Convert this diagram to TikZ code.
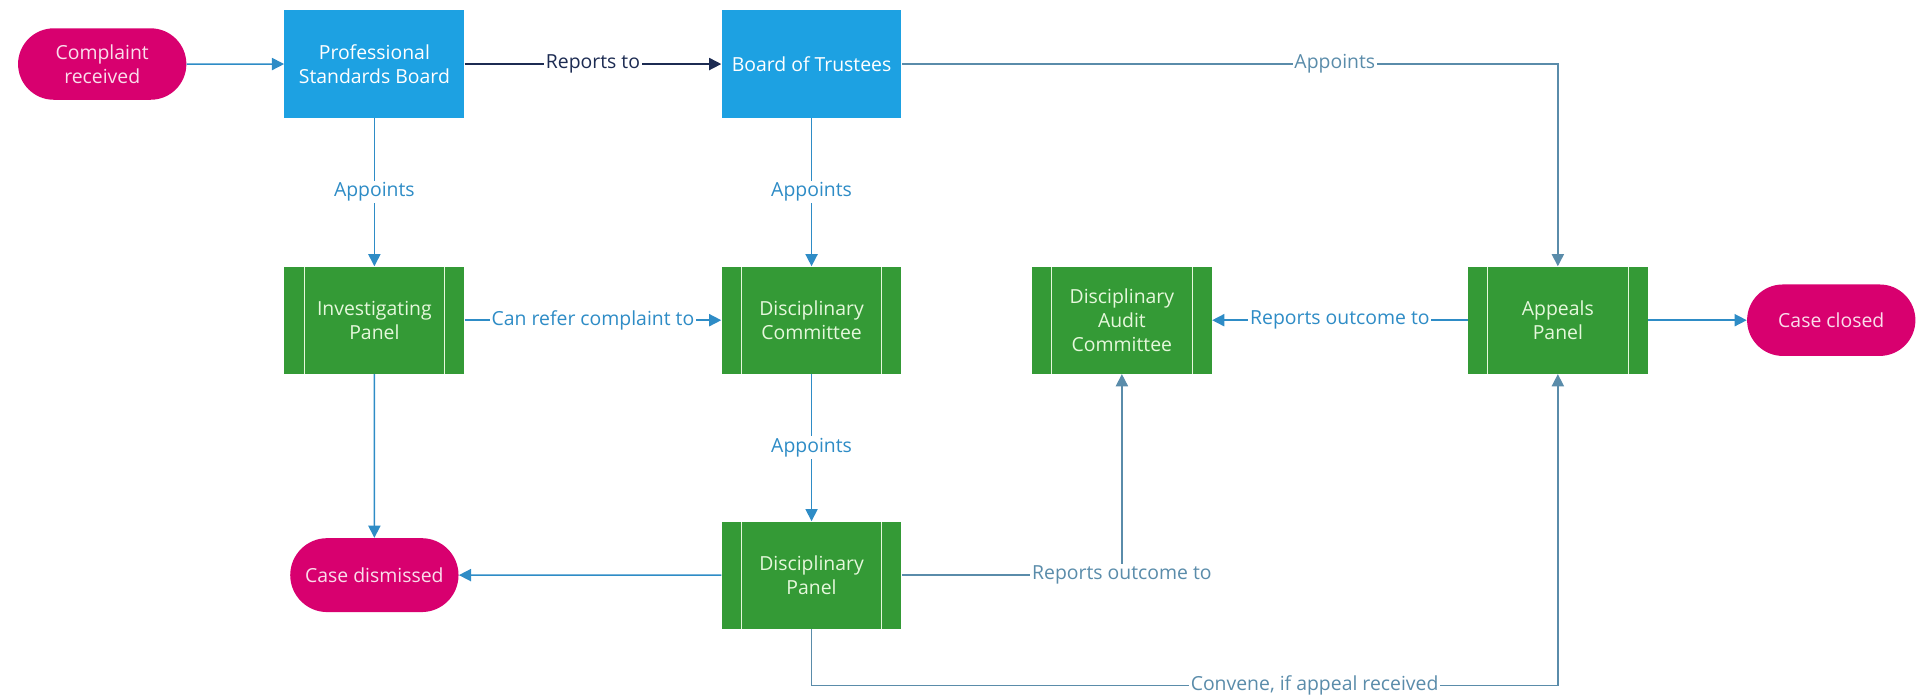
\documentclass[tikz,border=0pt]{standalone}
\usepackage{fontspec}
\setmainfont{Open Sans}
\usetikzlibrary{arrows.meta,positioning,shapes.misc}
\definecolor{pillColor}{HTML}{D8006F}
\definecolor{pillText}{HTML}{FADDEB}
\definecolor{boardColor}{HTML}{1DA1E2}
\definecolor{panelColor}{HTML}{349A36}
\definecolor{panelText}{HTML}{E6F8DC}
\definecolor{linkColor}{HTML}{2E8CC6}
\definecolor{longColor}{HTML}{5A8CAA}
\definecolor{navyColor}{HTML}{1C2B52}
\tikzset{
	box font/.style={font=\fontsize{11.2}{13.8}\selectfont},
	pill/.style={rounded rectangle, fill=pillColor, text=pillText, box font,
		minimum width=3.65cm, minimum height=1.45cm, align=center},
	board/.style={fill=boardColor, text=white, box font,
		minimum width=3.65cm, minimum height=2.175cm, align=center},
	panel/.style={fill=panelColor, text=panelText, box font,
		minimum width=3.65cm, minimum height=2.175cm, align=center,
		path picture={\draw[panelText, line width=0.6pt]
			([xshift=0.4cm]path picture bounding box.north west) -- ([xshift=0.4cm]path picture bounding box.south west)
			([xshift=-0.4cm]path picture bounding box.north east) -- ([xshift=-0.4cm]path picture bounding box.south east);}},
	link/.style={draw=linkColor, line width=0.9pt, -{Triangle[length=7pt,width=7pt]}},
	long link/.style={link, draw=longColor},
	lab/.style={fill=white, text=linkColor, inner sep=1pt, box font}
}

\begin{document}
\begin{tikzpicture}[x=0.025cm, y=-0.025cm]
	\useasboundingbox (0,0) rectangle (1568,567);
	% top row
	\node[pill] (complaint) at (83,52) {Complaint\\received};
	\node[board] (psb) at (304,52) {Professional\\Standards Board};
	\node[board] (bot) at (659,52) {Board of Trustees};
	% middle row
	\node[panel] (ip) at (304,260) {Investigating\\Panel};
	\node[panel] (dc) at (659,260) {Disciplinary\\Committee};
	\node[panel] (dac) at (911,260) {Disciplinary\\Audit\\Committee};
	\node[panel] (ap) at (1265,260) {Appeals\\Panel};
	\node[pill] (closed) at (1487,260) {Case closed};
	% bottom row
	\node[pill, minimum height=1.5cm] (dismissed) at (304,467) {Case dismissed};
	\node[panel] (dp) at (659,467) {Disciplinary\\Panel};

	\draw[link] (complaint) -- (psb);
	\draw[link, draw=navyColor] (psb) -- node[lab, text=navyColor] {Reports to} (bot);
	\draw[link] (psb) -- node[lab] {Appoints} (ip);
	\draw[link] (bot) -- node[lab] {Appoints} (dc);
	\draw[long link] (bot) -| node[lab, text=longColor, pos=0.33] {Appoints} (ap);
	\draw[link] (ip) -- node[lab] {Can refer complaint to} (dc);
	\draw[link] (ip) -- (dismissed);
	\draw[link] (dc) -- node[lab] {Appoints} (dp);
	\draw[link] (dp) -- (dismissed);
	\draw[long link] (dp) -| node[lab, text=longColor, pos=0.5] {Reports outcome to} (dac);
	\draw[link] (ap) -- node[lab] {Reports outcome to} (dac);
	\draw[link] (ap) -- (closed);
	\draw[long link] (dp.south) -- ++(0,46) -| node[lab, text=longColor, pos=0.337] {Convene, if appeal received} (ap.south);
\end{tikzpicture}
\end{document}
